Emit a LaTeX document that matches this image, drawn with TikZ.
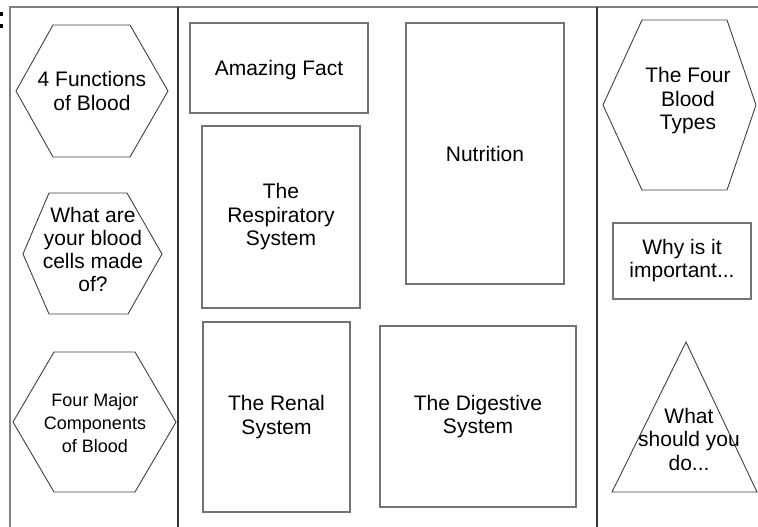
\documentclass[tikz,border=0pt]{standalone}
\usepackage{fontspec}
\setmainfont{Liberation Sans}
\newcommand\bigf{\fontsize{21}{23.5}\selectfont}
\newcommand\smallf{\fontsize{18}{23}\selectfont}
\begin{document}
\begin{tikzpicture}[x=1pt,y=-1pt,
  framegray/.style={draw=black!50, line width=2pt},
  divider/.style={draw=black!80, line width=1.5pt},
  box/.style={draw=black!55, line width=1.5pt, inner sep=0pt, align=center, font=\bigf},
  hexline/.style={draw=black!75, line width=0.9pt, line join=miter},
  lbl/.style={align=center, font=\bigf, inner sep=0pt}]
\useasboundingbox (0,0) rectangle (758,527);
% colon fragment at top-left
\fill[black] (0,12) rectangle (3,16);
\fill[black] (0,24) rectangle (3,28);
% frame
\draw[framegray] (758,7) -- (10,7) -- (10,527);
\draw[divider] (178,7) -- (178,527);
\draw[divider] (597,7) -- (597,527);
% left column hexagons
\draw[hexline] (53,25) -- (130,25) -- (168,91) -- (130,157) -- (53,157) -- (16,91) -- cycle;
\node[lbl] (hexA) at (92,91) {4 Functions\\of Blood};
\draw[hexline] (49,193) -- (127,193) -- (162,254) -- (128,314) -- (49,314) -- (23,254) -- cycle;
\node[lbl, font=\fontsize{21}{23}\selectfont] (hexB) at (93,249) {What are\\your blood\\cells made\\of?};
\draw[hexline] (54,352) -- (135,352) -- (176,422) -- (135,492) -- (54,492) -- (13,422) -- cycle;
\node[lbl, font=\smallf] (hexC) at (95,423.5) {Four Major\\Components\\of Blood};
% centre boxes
\node[box, minimum width=178pt, minimum height=90pt, text depth=0pt] (amazing) at (279,68) {Amazing Fact};
\node[box, minimum width=158pt, minimum height=261pt] (nutrition) at (485,153.5) {Nutrition};
\node[box, minimum width=158pt, minimum height=182pt] (resp) at (281,217) {The\\Respiratory\\System};
\node[box, minimum width=147pt, minimum height=190pt] (renal) at (276.5,417) {The Renal\\System};
\node[box, minimum width=196pt, minimum height=181pt] (digest) at (478,416.5) {The Digestive\\System};
% right column
\draw[hexline] (642,20) -- (727,20) -- (756,105) -- (727,190) -- (642,190) -- (603,105) -- cycle;
\node[lbl] (hexD) at (688,101) {The Four\\Blood\\Types};
\node[box, minimum width=138pt, minimum height=76pt, font=\fontsize{21}{23}\selectfont] (why) at (682,261) {Why is it\\important...};
\draw[hexline] (686,342) -- (757,492) -- (612,492) -- cycle;
\node[lbl] (tri) at (689,439) {What\\should you\\do...};
\end{tikzpicture}
\end{document}
